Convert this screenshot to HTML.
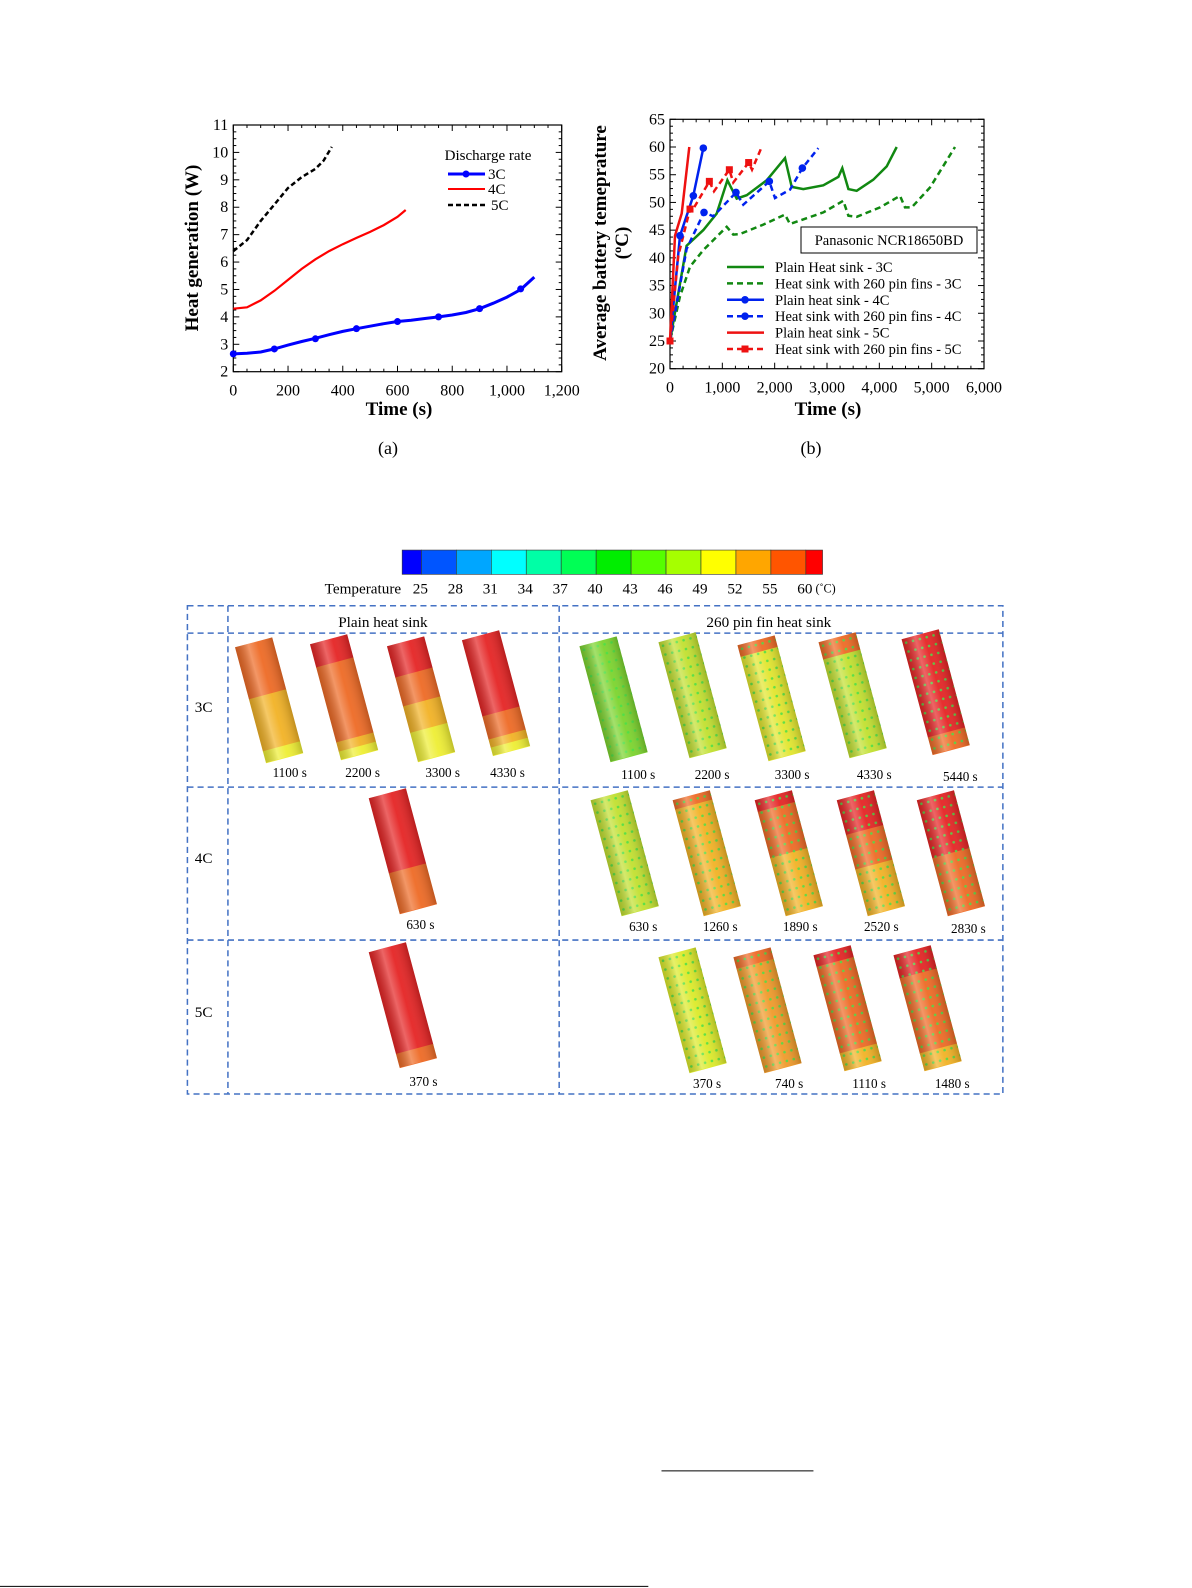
<!DOCTYPE html>
<html><head><meta charset="utf-8"><style>
html,body{margin:0;padding:0;background:#fff;}
svg{display:block;font-family:"Liberation Serif",serif;}
</style></head><body>
<svg id="root" width="1192" height="1588" viewBox="0 0 1192 1588" xmlns="http://www.w3.org/2000/svg">
<defs>
<linearGradient id="shade" x1="0" y1="0" x2="1" y2="0">
<stop offset="0" stop-color="#000" stop-opacity="0.18"/>
<stop offset="0.35" stop-color="#fff" stop-opacity="0.3"/>
<stop offset="0.6" stop-color="#fff" stop-opacity="0.05"/>
<stop offset="1" stop-color="#000" stop-opacity="0.2"/>
</linearGradient>
<pattern id="dots" width="7" height="9" patternUnits="userSpaceOnUse">
<circle cx="3.5" cy="4.5" r="1.3" fill="#40e040" opacity="0.85"/>
</pattern>
</defs>
<g id="chartA"></g>
<g id="chartB"></g>
<g id="figC" transform="scale(1.013)"></g>
</svg>
<script>
// ---------- Chart (a) data ----------
const a3Time=[0,50,100,150,200,250,300,350,400,450,500,550,600,650,700,750,800,850,900,950,1000,1050,1100];
const a3Heat=[2.65,2.67,2.72,2.83,2.97,3.1,3.22,3.35,3.47,3.57,3.66,3.75,3.83,3.88,3.94,4.0,4.07,4.16,4.3,4.5,4.72,5.0,5.45];
const a3MarkTime=[0,150,300,450,600,750,900,1050];
const a3MarkHeat=[2.65,2.83,3.2,3.57,3.83,4.0,4.3,5.02];
const a4Time=[0,50,100,150,200,250,300,350,400,450,500,550,600,630];
const a4Heat=[4.3,4.35,4.6,4.95,5.35,5.75,6.1,6.4,6.65,6.88,7.1,7.35,7.65,7.9];
const a5Time=[0,50,100,150,200,250,300,330,360];
const a5Heat=[6.4,6.8,7.5,8.1,8.7,9.1,9.4,9.7,10.2];
const aXTicks=[0,200,400,600,800,1000,1200];
const aXLabels=["0","200","400","600","800","1,000","1,200"];
const aYTicks=[2,3,4,5,6,7,8,9,10,11];

// ---------- Chart (b) data ----------
const bP3Time=[0,318,637,892,1096,1274,1465,1847,2197,2325,2548,2930,3217,3293,3408,3567,3885,4140,4331];
const bP3Temp=[25,42.2,45,48,54,50.7,51.3,54,58,52.8,52.4,53.1,54.6,56.2,52.4,52.1,54.1,56.5,60];
const bF3Time=[0,190,382,637,1083,1210,1338,1783,2197,2293,2930,3312,3408,3567,4013,4395,4490,4618,4968,5446];
const bF3Temp=[25,33,38.4,41.4,45.6,44.2,44.3,46,47.8,46.1,48.2,50.3,47.6,47.4,49.1,51.2,49.1,49.1,52.7,60];
const bP4Time=[0,191,446,637];
const bP4Temp=[25,44,51.2,59.8];
const bP4MarkTime=[191,446,637];
const bP4MarkTemp=[44,51.2,59.8];
const bF4Time=[0,318,650,828,1261,1401,1898,2006,2293,2529,2834];
const bF4Temp=[25,41.6,48.2,47.5,51.8,49.6,53.8,50.8,52.3,56.2,59.8];
const bF4MarkTime=[650,1261,1898,2529];
const bF4MarkTemp=[48.2,51.8,53.8,56.2];
const bP5Time=[0,96,223,369];
const bP5Temp=[25,44,48,60];
const bF5Time=[0,159,382,430,752,841,1134,1210,1503,1567,1752];
const bF5Temp=[25,40.4,48.8,48.6,53.8,52,55.9,53.6,57.2,55.9,60];
const bF5MarkTime=[0,382,752,1134,1503];
const bF5MarkTemp=[25,48.8,53.8,55.9,57.2];
const bXTicks=[0,1000,2000,3000,4000,5000,6000];
const bXLabels=["0","1,000","2,000","3,000","4,000","5,000","6,000"];
const bYTicks=[20,25,30,35,40,45,50,55,60,65];

const NS="http://www.w3.org/2000/svg";
function el(tag,attrs,parent,text){const e=document.createElementNS(NS,tag);for(const k in attrs)e.setAttribute(k,attrs[k]);if(text!==undefined)e.textContent=text;parent.appendChild(e);return e;}

function buildAxes(g,L,R,T,B,xs,ys,xMin,xMax,xMaj,xMin2,yMin,yMax,yMaj,yMin2,xTicks,xLabels,yTicks){
  const f=el('rect',{x:L,y:T,width:R-L,height:B-T,fill:'none',stroke:'#000','stroke-width':1.2},g);
  
  
  for(let v=xMin;v<=xMax+1e-9;v+=xMin2){const maj=Math.abs(v/xMaj-Math.round(v/xMaj))<1e-6;const l=maj?6:3;
    const t1=el('line',{x1:xs(v),x2:xs(v),y1:B,y2:B-l,stroke:'#000','stroke-width':1},g);
    
    
    const t2=el('line',{x1:xs(v),x2:xs(v),y1:T,y2:T+l,stroke:'#000','stroke-width':1},g);
    
    }
  for(let v=yMin;v<=yMax+1e-9;v+=yMin2){const maj=Math.abs(v/yMaj-Math.round(v/yMaj))<1e-6;const l=maj?6:3;
    const t1=el('line',{x1:L,x2:L+l,y1:ys(v),y2:ys(v),stroke:'#000','stroke-width':1},g);
    
    
    const t2=el('line',{x1:R,x2:R-l,y1:ys(v),y2:ys(v),stroke:'#000','stroke-width':1},g);
    
    }
  xTicks.forEach((v,i)=>{const t=el('text',{x:xs(v),y:B+24,'font-size':16,'text-anchor':'middle'},g,xLabels[i]);
    
    });
  yTicks.forEach(v=>{const t=el('text',{x:L-5,y:ys(v)+5,'font-size':16,'text-anchor':'end'},g,String(v));
    
    });
}
function pathD(xsArr,ysArr,xs,ys){return xsArr.map((v,i)=>(i?'L':'M')+xs(v).toFixed(1)+','+ys(ysArr[i]).toFixed(1)).join(' ');}

// ---------- Chart A ----------
(function(){
const g=document.getElementById('chartA');
const L=233.3,R=561.7,T=125,B=371.7;
const xs=v=>L+(v-0)/1200*(R-L), ys=v=>B-(v-2)/9*(B-T);
buildAxes(g,L,R,T,B,xs,ys,0,1200,200,50,2,11,1,0.25,aXTicks,aXLabels,aYTicks);
const p5=el('path',{d:pathD(a5Time,a5Heat,xs,ys),fill:'none',stroke:'#000','stroke-width':2.5,'stroke-dasharray':'5,3'},g);


const p4=el('path',{d:pathD(a4Time,a4Heat,xs,ys),fill:'none',stroke:'#f00','stroke-width':2.2},g);


const p3=el('path',{d:pathD(a3Time,a3Heat,xs,ys),fill:'none',stroke:'#0000ff','stroke-width':3},g);


a3MarkTime.forEach((t,i)=>{const c=el('circle',{cx:xs(t),cy:ys(a3MarkHeat[i]),r:3.5,fill:'#0000ff'},g);
  
  });
const ytl=el('text',{x:0,y:0,transform:'translate(198,248) rotate(-90)','font-size':19,'font-weight':'bold','text-anchor':'middle'},g,'Heat generation (W)');


const xtl=el('text',{x:399,y:415,'font-size':19,'font-weight':'bold','text-anchor':'middle'},g,'Time (s)');


const cap=el('text',{x:388,y:454,'font-size':18,'text-anchor':'middle'},g,'(a)');


const lt=el('text',{x:488,y:160,'font-size':15,'text-anchor':'middle'},g,'Discharge rate');


const l1=el('line',{x1:448,x2:485,y1:174,y2:174,stroke:'#0000ff','stroke-width':3},g);


el('circle',{cx:466,cy:174,r:3.5,fill:'#0000ff'},g);
const l1t=el('text',{x:488,y:179,'font-size':15},g,'3C');


const l2=el('line',{x1:448,x2:485,y1:189,y2:189,stroke:'#f00','stroke-width':2},g);


const l2t=el('text',{x:488,y:194,'font-size':15},g,'4C');


const l3=el('line',{x1:448,x2:485,y1:205,y2:205,stroke:'#000','stroke-width':2.5,'stroke-dasharray':'5,3'},g);


const l3t=el('text',{x:491,y:210,'font-size':15},g,'5C');


})();

// ---------- Chart B ----------
(function(){
const g=document.getElementById('chartB');
const L=670,R=984,T=119.3,B=368.7;
const xs=v=>L+v/6000*(R-L), ys=v=>B-(v-20)/45*(B-T);
buildAxes(g,L,R,T,B,xs,ys,0,6000,1000,250,20,65,5,1.25,bXTicks,bXLabels,bYTicks);
const G='#118811',BL='#0022ee',RD='#ee1111';
function series(tArr,vArr,color,dash,name){const p=el('path',{d:pathD(tArr,vArr,xs,ys),fill:'none',stroke:color,'stroke-width':2.5},g);
  if(dash)p.setAttribute('stroke-dasharray','6,4');
  
  }
series(bF3Time,bF3Temp,G,true,'series-fins-3c');
series(bP3Time,bP3Temp,G,false,'series-plain-3c');
series(bF4Time,bF4Temp,BL,true,'series-fins-4c');
series(bP4Time,bP4Temp,BL,false,'series-plain-4c');
series(bF5Time,bF5Temp,RD,true,'series-fins-5c');
series(bP5Time,bP5Temp,RD,false,'series-plain-5c');
bP4MarkTime.forEach((t,i)=>{const c=el('circle',{cx:xs(t),cy:ys(bP4MarkTemp[i]),r:3.8,fill:BL},g);
  
  });
bF4MarkTime.forEach((t,i)=>{const c=el('circle',{cx:xs(t),cy:ys(bF4MarkTemp[i]),r:3.8,fill:BL},g);
  
  });
bF5MarkTime.forEach((t,i)=>{const c=el('rect',{x:xs(t)-3.5,y:ys(bF5MarkTemp[i])-3.5,width:7,height:7,fill:RD},g);
  
  });
const yt=el('text',{x:0,y:0,transform:'translate(606,243) rotate(-90)','font-size':19,'font-weight':'bold','text-anchor':'middle'},g,'Average battery temeprature');


const yt2=el('text',{x:0,y:0,transform:'translate(628,243) rotate(-90)','font-size':19,'font-weight':'bold','text-anchor':'middle'},g,'(ºC)');


const xt=el('text',{x:828,y:415,'font-size':19,'font-weight':'bold','text-anchor':'middle'},g,'Time (s)');


const cap=el('text',{x:811,y:454,'font-size':18,'text-anchor':'middle'},g,'(b)');


const box=el('rect',{x:801,y:227,width:176,height:26,fill:'#fff',stroke:'#000','stroke-width':1},g);


const bt=el('text',{x:889,y:245,'font-size':14.5,'text-anchor':'middle'},g,'Panasonic NCR18650BD');


const leg=[['Plain Heat sink - 3C',G,false,''],['Heat sink with 260 pin fins - 3C',G,true,''],['Plain heat sink - 4C',BL,false,'c'],['Heat sink with 260 pin fins - 4C',BL,true,'c'],['Plain heat sink - 5C',RD,false,''],['Heat sink with 260 pin fins - 5C',RD,true,'s']];
leg.forEach((e,i)=>{const y=271+i*16.4;
  const ln=el('line',{x1:727,x2:764,y1:y-4,y2:y-4,stroke:e[1],'stroke-width':2.5},g);
  if(e[2])ln.setAttribute('stroke-dasharray','6,4');
  
  
  if(e[3]==='c')el('circle',{cx:745,cy:y-4,r:3.8,fill:e[1]},g);
  if(e[3]==='s')el('rect',{x:741.5,y:y-7.5,width:7,height:7,fill:e[1]},g);
  const t=el('text',{x:775,y:y+1,'font-size':14.5},g,e[0]);
  
  });
})();

// ---------- Contour figure ----------
(function(){
const g=document.getElementById('figC');
const cbColors=['#0000ff','#0055ff','#00a6ff','#00ffff','#00ffa6','#00ff55','#00ee00','#55ff00','#a6ff00','#ffff00','#ffa600','#ff5500','#ff0000'];
const cbEdges=[397,416,450.5,485,519.5,554,588.5,623,657.5,692,726.5,761,795.5,812];
const cbLabels=['25','28','31','34','37','40','43','46','49','52','55','60'];
cbColors.forEach((c,i)=>{const r=el('rect',{x:cbEdges[i],y:543,width:cbEdges[i+1]-cbEdges[i],height:24,fill:c,stroke:'#333','stroke-width':0.6},g);
  
  });
cbLabels.forEach((l,i)=>{const t=el('text',{x:cbEdges[i+1]-1,y:586,'font-size':15,'text-anchor':'middle'},g,l);
  
  });
const ct=el('text',{x:396,y:586,'font-size':15,'text-anchor':'end'},g,'Temperature');


const cu=el('text',{x:805,y:585,'font-size':12},g,'(˚C)');


const ds={stroke:'#4472c4','stroke-width':1.5,'stroke-dasharray':'6,4',fill:'none'};
const frame=el('rect',Object.assign({x:185,y:598,width:805,height:482},ds),g);


[[225,598,225,1080],[552,598,552,1080],[185,625,990,625],[185,777,990,777],[185,928,990,928]].forEach(a=>{
  const l=el('line',Object.assign({x1:a[0],y1:a[1],x2:a[2],y2:a[3]},ds),g);
  
  });
const h1=el('text',{x:378,y:619,'font-size':15,'text-anchor':'middle'},g,'Plain heat sink');


const h2=el('text',{x:759,y:619,'font-size':15,'text-anchor':'middle'},g,'260 pin fin heat sink');


[['3C',703],['4C',852],['5C',1004]].forEach(r=>{const t=el('text',{x:201,y:r[1],'font-size':15,'text-anchor':'middle'},g,r[0]);
  
  });
const R='#e52424',O='#ee6a25',YO='#f2b225',Y='#eeee33',YG='#c2e030',GR='#7cd42e',YL='#dcea2a';
const cyls=[
 [232,639,[[0,.45,O],[.45,.9,YO],[.9,1,Y]],false,'1100 s',286,767],
 [306,636,[[0,.2,R],[.2,.85,O],[.85,.93,YO],[.93,1,Y]],false,'2200 s',358,767],
 [382,638,[[0,.27,R],[.27,.52,O],[.52,.75,YO],[.75,1,Y]],false,'3300 s',437,767],
 [456,632,[[0,.66,R],[.66,.86,O],[.86,.93,YO],[.93,1,Y]],false,'4330 s',501,767],
 [572,638,[[0,1,GR]],true,'1100 s',630,769],
 [650,634,[[0,1,YG]],true,'2200 s',703,769],
 [728,637,[[0,.1,O],[.1,1,'#e2e62e']],true,'3300 s',782,769],
 [808,634,[[0,.15,O],[.15,1,YG]],true,'4330 s',863,769],
 [890,631,[[0,.85,R],[.85,1,O]],true,'5440 s',948,771],
 [364,788,[[0,.65,R],[.65,1,O]],false,'630 s',415,917],
 [583,790,[[0,1,YG]],true,'630 s',635,919],
 [664,790,[[0,.08,O],[.08,1,YO]],true,'1260 s',711,919],
 [745,790,[[0,.1,R],[.1,.5,O],[.5,1,YO]],true,'1890 s',790,919],
 [826,790,[[0,.3,R],[.3,.6,O],[.6,1,YO]],true,'2520 s',870,919],
 [905,790,[[0,.5,R],[.5,1,O]],true,'2830 s',956,921],
 [364,940,[[0,.88,R],[.88,1,O]],false,'370 s',418,1072],
 [650,945,[[0,1,YL]],true,'370 s',698,1074],
 [724,945,[[0,.1,O],[.1,1,'#f09a2a']],true,'740 s',779,1074],
 [803,943,[[0,.1,R],[.1,.85,O],[.85,1,YO]],true,'1110 s',858,1074],
 [882,943,[[0,.2,R],[.2,.85,O],[.85,1,YO]],true,'1480 s',940,1074]
];
const W=38,H=118;
cyls.forEach(c=>{
  const cg=el('g',{transform:'translate('+c[0]+','+c[1]+') rotate(-15)'},g);
  
  
  c[2].forEach(b=>{el('rect',{x:0,y:b[0]*H,width:W,height:(b[1]-b[0])*H+0.5,fill:b[2]},cg);});
  if(c[3])el('rect',{x:0,y:0,width:W,height:H,fill:'url(#dots)'},cg);
  el('rect',{x:0,y:0,width:W,height:H,fill:'url(#shade)'},cg);
  const t=el('text',{x:c[5],y:c[6],'font-size':13,'text-anchor':'middle'},g,c[4]);
  
  
});
const fl=el('line',{x1:653,y1:1452,x2:803,y2:1452,stroke:'#000','stroke-width':1},g);


const bl=el('line',{x1:0,y1:1566,x2:640,y2:1566,stroke:'#000','stroke-width':1},g);


})();
</script>
</body></html>
